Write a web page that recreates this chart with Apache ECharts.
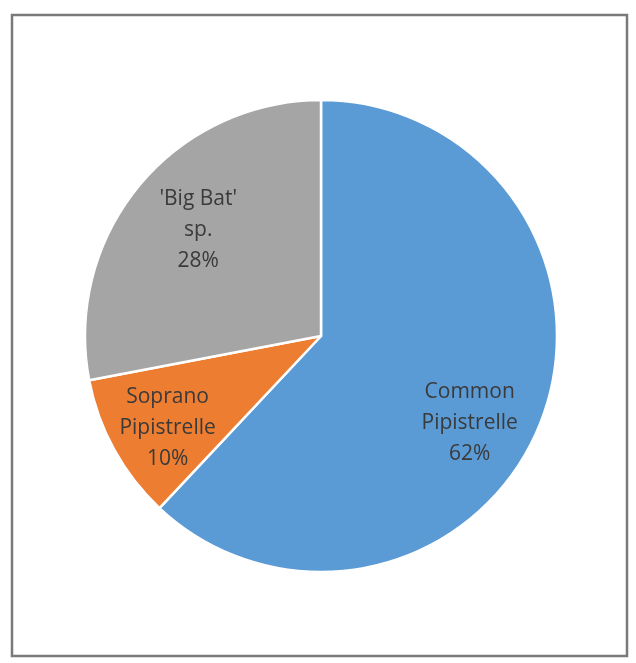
<!DOCTYPE html>
<html><head><meta charset="utf-8">
<script src="https://cdn.jsdelivr.net/npm/echarts@6/dist/echarts.min.js"></script>
<style>html,body{margin:0;padding:0;background:#fff}#c{width:636px;height:663px}</style>
</head><body><div id="c"></div>
<script>
const categories = ["Common\nPipistrelle", "Soprano\nPipistrelle", "'Big Bat'\nsp."];
const percents = [62, 10, 28];
const colors = ["#5B9BD5", "#ED7D31", "#A5A5A5"];
// label anchor offsets (fractions of radius) relative to pie centre
const labelOffsets = [[0.63, 0.37], [-0.65, 0.39], [-0.52, -0.45]];

const CX = 321, CY = 336, R = 236;
const chart = echarts.init(document.getElementById('c'), null, {renderer: 'canvas'});
chart.setOption({
  backgroundColor: '#ffffff',
  animation: false,
  graphic: [{
    type: 'rect', shape: {x: 12, y: 15, width: 615, height: 641},
    style: {fill: 'none', stroke: '#7a7a7a', lineWidth: 2.5}, z: 10
  }],
  series: [{
    type: 'pie',
    center: [CX, CY],
    radius: [0, R],
    startAngle: 90,
    clockwise: true,
    data: categories.map((n, i) => ({name: n, value: percents[i], itemStyle: {color: colors[i]}})),
    itemStyle: {borderColor: '#ffffff', borderWidth: 2.5},
    label: {
      show: true, position: 'inside',
      formatter: p => p.name + '\n' + p.value + '%',
      fontFamily: 'Open Sans', fontSize: 21, lineHeight: 31, color: '#3a3a3a', align: 'center'
    },
    labelLine: {show: false},
    labelLayout: function (p) {
      const o = labelOffsets[p.dataIndex];
      return {x: CX + o[0] * R, y: CY + o[1] * R, align: 'center', verticalAlign: 'middle'};
    },
    emphasis: {disabled: true}
  }]
});
</script></body></html>
